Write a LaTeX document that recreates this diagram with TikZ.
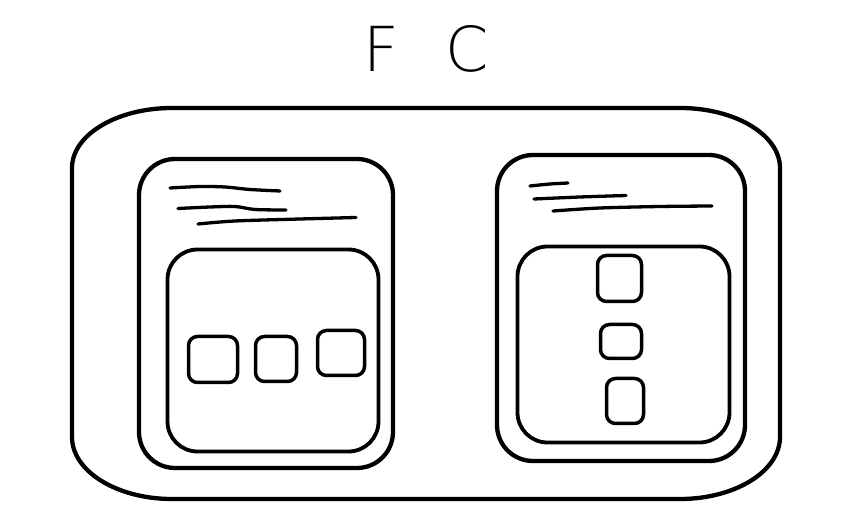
\documentclass[tikz,border=0pt]{standalone}
\usepackage{fontspec}
\newfontfamily\titlefont{DejaVu Sans ExtraLight}
\begin{document}
\begin{tikzpicture}[x=1pt,y=-1pt,
  card/.style={draw, line width=4.3pt, rounded corners=36pt, inner sep=0pt},
  panel/.style={draw, line width=3.8pt, rounded corners=30pt, inner sep=0pt},
  tile/.style={draw, line width=3.5pt, rounded corners=9pt, inner sep=0pt},
  scribble/.style={line width=3.3pt, line cap=round, line join=round},
  ttl/.style={font=\titlefont\fontsize{62}{62}\selectfont, inner sep=0pt, anchor=base}]
\useasboundingbox (0,0) rectangle (849,518);
% title
\node[ttl] (tF) at (381,72) {F};
\node[ttl] (tC) at (467,72) {C};
% outer container
\draw[line width=4.3pt] (172,108) -- (680,108)
  .. controls (735.2,108) and (780,134.9) .. (780,168)
  -- (780,437)
  .. controls (780,471.2) and (735.2,499) .. (680,499)
  -- (172,499)
  .. controls (116.8,499) and (72,471.2) .. (72,437)
  -- (72,168)
  .. controls (72,134.9) and (116.8,108) .. (172,108) -- cycle;
% cards
\node[card, minimum width=254pt, minimum height=309pt] (lcard) at (266,313.5) {};
\node[card, minimum width=248pt, minimum height=306pt] (rcard) at (621,308) {};
% panels
\node[panel, minimum width=211pt, minimum height=202pt] (lpanel) at (273,350.5) {};
\node[panel, minimum width=212pt, minimum height=196pt] (rpanel) at (623.5,344.5) {};
% tiles left
\node[tile, minimum width=49pt, minimum height=46pt] (l1) at (213,359.5) {};
\node[tile, minimum width=41pt, minimum height=45pt] (l2) at (276,359) {};
\node[tile, minimum width=47pt, minimum height=45pt] (l3) at (341,353) {};
% tiles right
\node[tile, minimum width=44pt, minimum height=46pt] (r1) at (619.5,278.5) {};
\node[tile, minimum width=41pt, minimum height=34pt] (r2) at (621,341.5) {};
\node[tile, minimum width=37pt, minimum height=45pt] (r3) at (625,401) {};
% scribbled text lines, left card
\draw[scribble] plot[smooth, tension=0.5] coordinates {(170,188) (200,186.5) (225,187) (250,189.5) (280,191)};
\draw[scribble] plot[smooth, tension=0.5] coordinates {(178,208.5) (210,207) (235,206.5) (255,209.5) (286,210)};
\draw[scribble] plot[smooth, tension=0.5] coordinates {(198,224) (235,221) (300,219) (356,217.5)};
% scribbled text lines, right card
\draw[scribble] plot[smooth, tension=0.5] coordinates {(530,186) (550,184) (568,183)};
\draw[scribble] plot[smooth, tension=0.5] coordinates {(534,199) (580,197) (626,195.5)};
\draw[scribble] plot[smooth, tension=0.5] coordinates {(553,211) (600,208) (660,206.5) (712,206)};
\end{tikzpicture}
\end{document}
